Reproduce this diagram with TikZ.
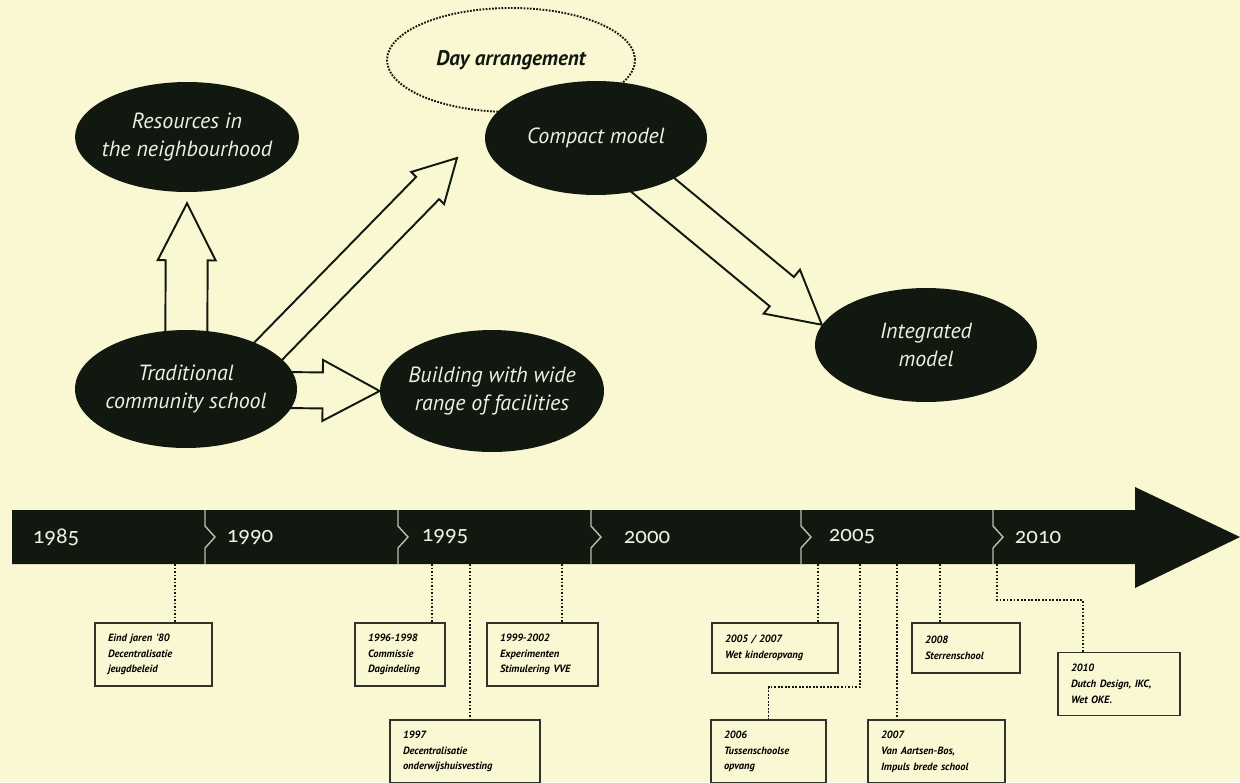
\documentclass[tikz,border=0pt]{standalone}
\usepackage{fontspec}
\setmainfont{PT Sans}
\newfontfamily\yearfont[Numbers=OldStyle]{Carlito}
\usetikzlibrary{calc,positioning,shapes.geometric}

\definecolor{paper}{RGB}{250,248,211}
\definecolor{ink}{RGB}{16,24,16}
\definecolor{chalk}{RGB}{240,240,226}
\definecolor{frame}{RGB}{50,50,45}
\definecolor{notch}{RGB}{190,190,170}

\pgfdeclarelayer{paperlayer}
\pgfdeclarelayer{arrowlayer}
\pgfsetlayers{paperlayer,arrowlayer,main}

% hollow block arrow: tail, tip, half shaft, half head, head length
\newcommand{\blockarrow}[5]{%
  \coordinate (ba) at ($(#2)!#5!(#1)$);
  \draw[hollow] ($(#1)!#3!90:(#2)$) -- ($(ba)!#3!-90:(#1)$) -- ($(ba)!#4!-90:(#1)$)
    -- (#2) -- ($(ba)!#4!90:(#1)$) -- ($(ba)!#3!90:(#1)$) -- ($(#1)!#3!-90:(#2)$) -- cycle;
}

\tikzset{
  idea/.style={ellipse, fill=ink, text=chalk, inner sep=-8pt, align=center,
    font=\itshape\fontsize{12.5}{16}\selectfont},
  dayring/.style={ellipse, draw=ink, line width=1.1pt, dash pattern=on 1pt off 0.8pt,
    minimum width=4.96cm, minimum height=2.08cm, inner sep=-8pt, text=ink,
    font=\bfseries\itshape\fontsize{12}{14}\selectfont},
  hollow/.style={draw=ink, line width=1.1pt, fill=paper, line join=miter},
  notchline/.style={draw=notch, line width=0.8pt},
  year/.style={text=chalk, font=\yearfont\fontsize{13}{13}\selectfont},
  event/.style={draw=frame, line width=0.8pt, fill=paper, align=left,
    inner xsep=0.26cm, text width=#1, minimum height=1.26cm,
    font=\bfseries\itshape\fontsize{6}{9}\selectfont},
  leader/.style={draw=ink, line width=1pt, dash pattern=on 1pt off 1pt}
}

\begin{document}
\begin{tikzpicture}[x=0.02cm, y=-0.02cm]
\useasboundingbox (0,0) rectangle (1240,782);
\begin{pgfonlayer}{paperlayer}
  \fill[paper] (0,0) rectangle (1240,782);
\end{pgfonlayer}

% concepts
\node[dayring] (day) at (511,60) {Day arrangement};
\node[idea, minimum width=4.48cm, minimum height=2.2cm] (res) at (187,137) {Resources in\\the neighbourhood};
\node[idea, minimum width=4.44cm, minimum height=2.28cm] (comp) at (596,138) {Compact model};
\node[idea, minimum width=4.44cm, minimum height=2.28cm] (integ) at (926,345) {Integrated\\model};
\node[idea, minimum width=4.44cm, minimum height=2.36cm] (trad) at (186,389) {Traditional\\community school};
\node[idea, minimum width=4.48cm, minimum height=2.44cm] (bldg) at (492,391) {Building with wide\\range of facilities};

% transitions
\coordinate (h1) at ([yshift=-0.22cm]res.south);
\coordinate (t2) at ([shift={(55,-10)}]trad.center);
\coordinate (h2) at ([shift={(-139,20)}]comp.center);
\begin{pgfonlayer}{arrowlayer}
  \blockarrow{trad.center}{h1}{0.42cm}{0.58cm}{1.14cm}
  \blockarrow{t2}{h2}{0.32cm}{0.46cm}{0.84cm}
  \blockarrow{trad.center}{bldg.west}{0.36cm}{0.61cm}{1.14cm}
  \blockarrow{comp.center}{integ.169}{0.38cm}{0.57cm}{1.04cm}
\end{pgfonlayer}

% timeline
\fill[ink] (12,510) -- (1135,510) -- (1135,487) -- (1240,537) -- (1135,588) -- (1135,564) -- (12,564) -- cycle;
\foreach \x in {205,398,591,801,993}
  \draw[notchline] (\x,510) -- (\x,526) -- (\x+10,537) -- (\x,548) -- (\x,564);
\foreach \yr/\x in {1985/56,1990/250,1995/445,2000/647,2005/852,2010/1038}
  \node[year] (y\yr) at (\x,537) {\yr};
\foreach \d/\x in {a/175,b/432,c/562,d/470,e/818,f/940,g/860,h/897,i/997}
  \coordinate (drop\d) at (\x,564);

% events
\node[event=1.82cm] (eva) at (153.5,654.5) {Eind jaren ’80\\Decentralisatie\\jeugdbeleid};
\node[event=1.28cm] (evb) at (400,654.5) {1996-1998\\Commissie\\Dagindeling};
\node[event=1.70cm] (evc) at (542.5,654.5) {1999-2002\\Experimenten\\Stimulering VVE};
\node[event=2.48cm] (evd) at (465,751.5) {1997\\Decentralisatie\\onderwijshuisvesting};
\node[event=2.00cm, minimum height=1cm] (eve) at (775,648) {2005 / 2007\\Wet kinderopvang};
\node[event=1.64cm, minimum height=1cm] (evf) at (966,648) {2008\\Sterrenschool};
\node[event=1.78cm] (evg) at (768.5,751.5) {2006\\Tussenschoolse\\opvang};
\node[event=2.22cm] (evh) at (936.5,751.5) {2007\\Van Aartsen-Bos,\\Impuls brede school};
\node[event=1.92cm] (evi) at (1119,684) {2010\\Dutch Design, IKC,\\Wet OKE.};

\foreach \d in {a,b,c,d,e,f,h}
  \draw[leader] (drop\d) -- (drop\d |- ev\d.north);
\draw[leader] (dropg) |- ([yshift=0.64cm]evg.north) -- (evg.north);
\coordinate (kneei) at (1083,600);
\draw[leader] (dropi) |- (kneei) -- (kneei |- evi.north);
\end{tikzpicture}
\end{document}
